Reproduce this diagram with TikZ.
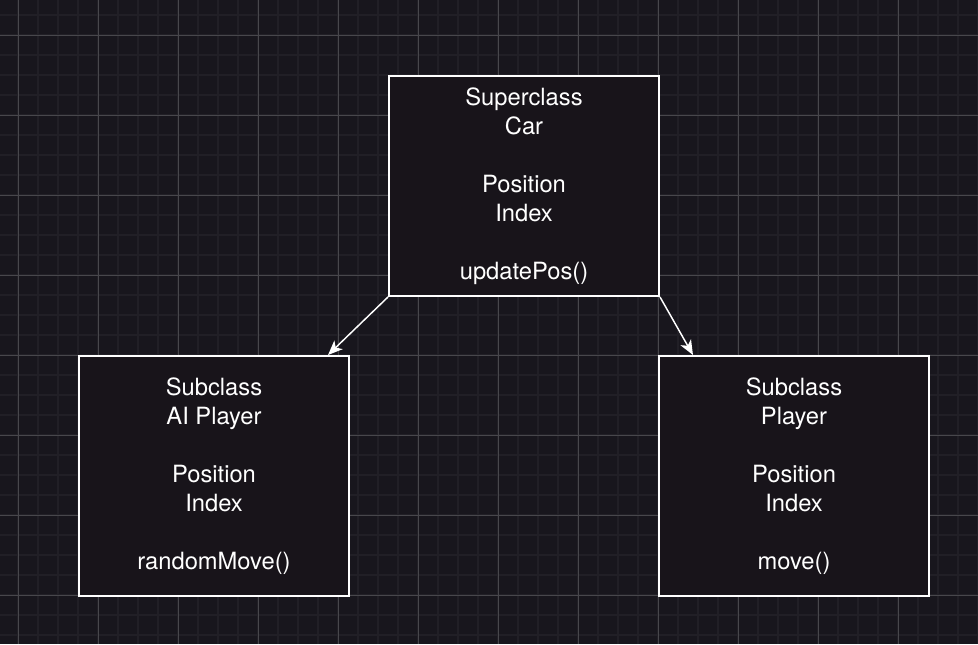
\documentclass[tikz,border=0pt]{standalone}
\usepackage{fontspec}
\setmainfont{TeX Gyre Heros}
\usepackage{tikz}
\usetikzlibrary{arrows.meta, positioning}

\definecolor{bgdark}{RGB}{24,22,29}
\definecolor{gridminor}{RGB}{33,31,38}
\definecolor{gridmajor}{RGB}{72,71,76}
\definecolor{boxfill}{RGB}{24,20,26}

\tikzset{
  classbox/.style={draw=white, line width=1.5pt, fill=boxfill, text=white,
    minimum width=202.5pt, align=center, font=\fontsize{17.8}{21.75}\selectfont},
  inherit/.style={draw=white, line width=1.1pt, -{Stealth[length=11pt, width=9pt, inset=3pt]}}
}

\begin{document}
\begin{tikzpicture}[x=0.75pt, y=-0.75pt]
			% Background and grid
			\fill[bgdark] (0,0) rectangle (978,644);
			\useasboundingbox (0,0) rectangle (978,644);
			\foreach \gx in {-2,18,...,978} \draw[gridminor, line width=1.5pt] (\gx,0) -- (\gx,644);
			\foreach \gy in {15,35,...,644} \draw[gridminor, line width=1.5pt] (0,\gy) -- (978,\gy);
			\foreach \gx in {18,98,...,978} \draw[gridmajor, line width=0.75pt] (\gx,0) -- (\gx,644);
			\foreach \gy in {35,115,...,644} \draw[gridmajor, line width=0.75pt] (0,\gy) -- (978,\gy);
			
			% Classes
			\node[classbox, minimum height=165pt] (car) at (524,186) {Superclass\\Car\\[21.75pt]Position\\Index\\[21.75pt]updatePos()};
			\node[classbox, minimum height=180pt] (ai) at (214,476) {Subclass\\AI Player\\[21.75pt]Position\\Index\\[21.75pt]randomMove()};
			\node[classbox, minimum height=180pt] (player) at (794,476) {Subclass\\Player\\[21.75pt]Position\\Index\\[21.75pt]move()};
			
			% Inheritance
			\draw[inherit] (car.south west) -- ([xshift=-16.5pt]ai.north east);
			\draw[inherit] (car.south east) -- ([xshift=26.25pt]player.north west);
		\end{tikzpicture}
\end{document}
